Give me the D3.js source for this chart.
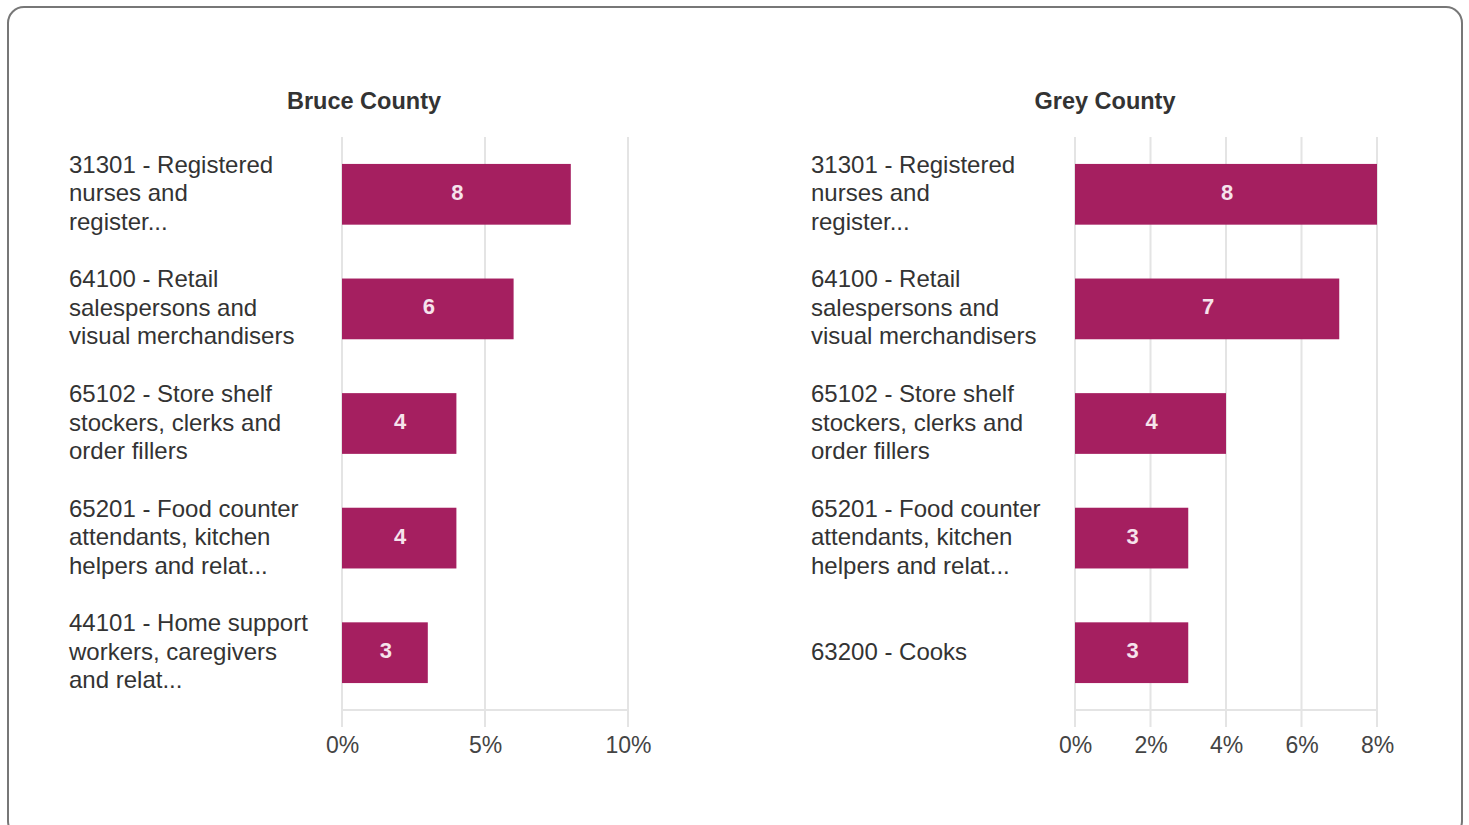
<!DOCTYPE html>
<html><head><meta charset="utf-8">
<script src="https://cdn.jsdelivr.net/npm/d3@7"></script>
<style>
html,body{margin:0;padding:0;background:#fff;}
svg{display:block;}
text{font-family:"Liberation Sans",Arial,sans-serif;}
</style></head>
<body><svg id="chart" width="1469" height="825"></svg>
<script>
// ---- data ----
const bruceCategories = [
  "31301 - Registered|nurses and|register...",
  "64100 - Retail|salespersons and|visual merchandisers",
  "65102 - Store shelf|stockers, clerks and|order fillers",
  "65201 - Food counter|attendants, kitchen|helpers and relat...",
  "44101 - Home support|workers, caregivers|and relat..."
];
const bruceValues = [8, 6, 4, 4, 3];
const bruceTicks = [0, 5, 10];

const greyCategories = [
  "31301 - Registered|nurses and|register...",
  "64100 - Retail|salespersons and|visual merchandisers",
  "65102 - Store shelf|stockers, clerks and|order fillers",
  "65201 - Food counter|attendants, kitchen|helpers and relat...",
  "63200 - Cooks"
];
const greyValues = [8, 7, 4, 3, 3];
const greyTicks = [0, 2, 4, 6, 8];

const titles = ["Bruce County", "Grey County"];

// ---- drawing ----
const svg = d3.select("#chart");
svg.append("rect").attr("x", 8).attr("y", 7).attr("width", 1454).attr("height", 830)
  .attr("rx", 16).attr("fill", "#fff").attr("stroke", "#777").attr("stroke-width", 2);

const barColor = "#a51f60";
const gridColor = "#e4e4e4";

function panel(cfg) {
  const x = d3.scaleLinear().domain([0, d3.max(cfg.ticks)]).range([cfg.x0, cfg.x1]);
  const y = d3.scaleBand().domain(d3.range(cfg.cats.length)).range([137, 710])
    .paddingInner(0.47).paddingOuter(0.235);
  const g = svg.append("g");

  g.append("text").attr("x", cfg.titleX).attr("y", 101).attr("text-anchor", "middle")
    .attr("dominant-baseline", "central").attr("font-size", 23.5).attr("font-weight", "bold")
    .attr("fill", "#333").text(cfg.title);

  // gridlines
  g.selectAll(".grid").data(cfg.ticks).join("line")
    .attr("x1", d => x(d)).attr("x2", d => x(d)).attr("y1", 137).attr("y2", 727)
    .attr("stroke", gridColor).attr("stroke-width", 2);
  g.append("line").attr("x1", x(0)).attr("x2", x(d3.max(cfg.ticks))).attr("y1", 710).attr("y2", 710)
    .attr("stroke", gridColor).attr("stroke-width", 2);

  // axis labels
  const axis = d3.axisBottom(x).tickValues(cfg.ticks).tickFormat(d => d + "%").tickSize(0).tickPadding(0);
  const ax = g.append("g").attr("transform", "translate(0,745)").call(axis);
  ax.select(".domain").remove();
  ax.selectAll("text").attr("font-size", 23).attr("fill", "#444")
    .attr("dominant-baseline", "central").attr("dy", 0).attr("y", 0)
    .style("font-family", '"Liberation Sans",Arial,sans-serif');

  // bars
  g.selectAll(".bar").data(cfg.vals).join("rect")
    .attr("x", x(0)).attr("y", (d, i) => y(i)).attr("width", d => x(d) - x(0))
    .attr("height", y.bandwidth()).attr("fill", barColor);

  g.selectAll(".val").data(cfg.vals).join("text")
    .attr("x", d => (x(0) + x(d)) / 2 + 1).attr("y", (d, i) => y(i) + y.bandwidth() / 2 - 2)
    .attr("text-anchor", "middle").attr("dominant-baseline", "central")
    .attr("font-size", 22).attr("font-weight", "bold").attr("fill", "#f6e3ec").text(d => d);

  // category labels
  const lh = 28.5;
  cfg.cats.forEach((c, i) => {
    const lines = c.split("|");
    const cy = y(i) + y.bandwidth() / 2 - 1.5;
    const t = g.append("text").attr("font-size", 24).attr("fill", "#333");
    lines.forEach((ln, k) => {
      t.append("tspan").attr("x", cfg.labelX)
        .attr("y", cy + (k - (lines.length - 1) / 2) * lh)
        .attr("dominant-baseline", "central").text(ln);
    });
  });
}

panel({title: titles[0], titleX: 364, cats: bruceCategories, vals: bruceValues, ticks: bruceTicks,
  x0: 342, x1: 628, labelX: 69});
panel({title: titles[1], titleX: 1105, cats: greyCategories, vals: greyValues, ticks: greyTicks,
  x0: 1075, x1: 1377, labelX: 811});
</script></body></html>
